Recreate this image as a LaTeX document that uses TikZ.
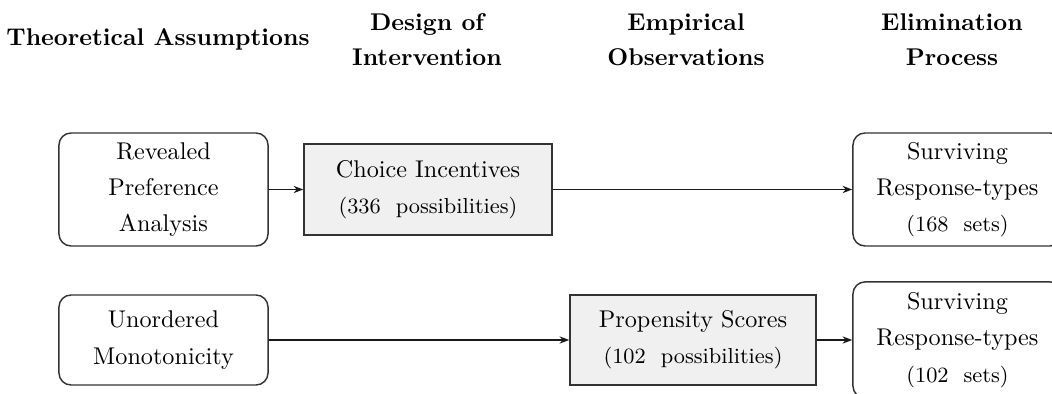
\documentclass[tikz,border=0pt]{standalone}
\usetikzlibrary{arrows.meta}
\definecolor{boxgray}{RGB}{240,240,240}
\begin{document}
\begin{tikzpicture}[x=0.41322pt,y=-0.41322pt,
  rbox/.style={draw=black!80, line width=0.6pt, rounded corners=5pt, align=center, inner sep=0pt, font=\fontsize{10}{15}\selectfont},
  gbox/.style={draw=black!80, line width=0.6pt, fill=boxgray, align=center, inner sep=0pt, font=\fontsize{10}{15}\selectfont},
  head/.style={align=center, font=\bfseries\fontsize{10}{14.5}\selectfont, inner sep=0pt},
  arr/.style={-{Stealth[length=4pt,width=3pt]}, line width=0.6pt, black!90}]
\useasboundingbox (0,0) rectangle (1052,394);
% headers
\node[head] (h1) at (158,39.5) {Theoretical Assumptions};
\node[head] (h2) at (427,39.5) {Design of\\Intervention};
\node[head] (h3) at (686,39.5) {Empirical\\Observations};
\node[head] (h4) at (952,39.5) {Elimination\\Process};
% row 1
\node[rbox, minimum width=86.4pt, minimum height=46.7pt] (rpa) at (163.5,189.5) {Revealed\\Preference\\Analysis};
\node[gbox, minimum width=102.5pt, minimum height=37.6pt] (ci) at (428,189.5) {Choice Incentives\\{\small (336~~possibilities)}};
\node[rbox, minimum width=86.4pt, minimum height=46.7pt] (s1) at (957.5,189.5) {Surviving\\Response-types\\{\small (168~~sets)}};
% row 2
\node[rbox, minimum width=86.4pt, minimum height=37.2pt] (um) at (163.5,340) {Unordered\\Monotonicity};
\node[gbox, minimum width=101.7pt, minimum height=37.2pt] (ps) at (693,340) {Propensity Scores\\{\small (102~~possibilities)}};
\node[rbox, minimum width=86.4pt, minimum height=48pt] (s2) at (957.5,340) {Surviving\\Response-types\\{\small (102~~sets)}};
% arrows
\draw[arr] (rpa.east) -- (ci.west);
\draw[arr] (ci.east) -- (s1.west);
\draw[arr] (um.east) -- (ps.west);
\draw[arr] (ps.east) -- (s2.west);
\end{tikzpicture}
\end{document}
